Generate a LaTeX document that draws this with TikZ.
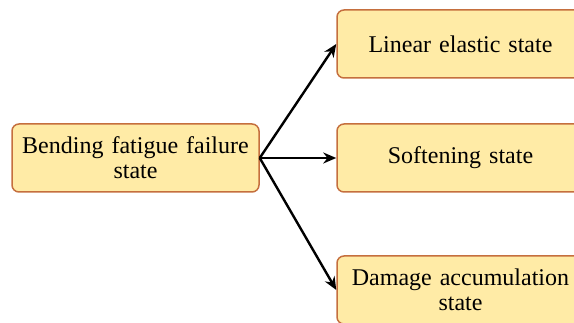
\documentclass[tikz,border=0pt]{standalone}
\usepackage{fontspec}
\setmainfont{Liberation Serif}
\usetikzlibrary{arrows.meta}
\definecolor{boxfill}{HTML}{FFEBA6}
\definecolor{boxdraw}{HTML}{C56F3E}
\tikzset{
  statebox/.style={draw=boxdraw, fill=boxfill, line width=1.5pt, rounded corners=7pt,
    minimum width=247pt, minimum height=68pt, inner sep=2pt, align=center,
    font=\fontsize{24}{25}\selectfont, text width=243pt},
  conn/.style={-{Stealth[length=13pt,width=11pt]}, line width=2.4pt, black}
}
\begin{document}
\begin{tikzpicture}[x=1pt,y=-1pt]
\useasboundingbox (0,0) rectangle (574,323);
\clip (0,0) rectangle (574,323);
\node[statebox] (bend) at (135.5,158) {Bending fatigue failure\\state};
\node[statebox] (lin) at (460.5,44) {Linear elastic state};
\node[statebox] (soft) at (460.5,158) {Softening state};
\node[statebox] (dam) at (460.5,290) {Damage accumulation\\state};
\draw[conn] (bend.east) -- (lin.west);
\draw[conn] (bend.east) -- (soft.west);
\draw[conn] (bend.east) -- (dam.west);
\end{tikzpicture}
\end{document}
